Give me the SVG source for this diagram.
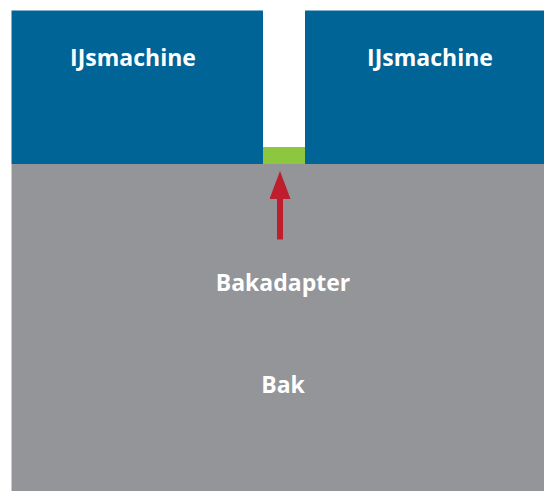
<svg xmlns="http://www.w3.org/2000/svg" width="544" height="491" viewBox="0 0 544 491">
<style>
.blue{fill:#006496}
.lbl{font-family:"Open Sans","Liberation Sans",sans-serif;font-weight:700;font-size:23px;fill:#fff;text-anchor:middle}
</style>
<defs>
<marker id="ah" viewBox="0 0 28 21" refX="0" refY="10.5" markerWidth="28" markerHeight="21" markerUnits="userSpaceOnUse" orient="auto">
<path d="M0,0 L28,10.5 L0,21 Z" fill="#be1e2d"/>
</marker>
</defs>
<rect width="544" height="491" fill="#fff"/>
<g id="bak">
<rect x="11.5" y="164" width="532.5" height="327" fill="#939598"/>
<text class="lbl" x="283" y="393">Bak</text>
</g>
<g id="ijs1">
<rect class="blue" x="11.5" y="10.5" width="251.5" height="153.5"/>
<text class="lbl" x="133" y="66">IJsmachine</text>
</g>
<g id="ijs2">
<rect class="blue" x="305" y="10.5" width="239" height="153.5"/>
<text class="lbl" x="430" y="66">IJsmachine</text>
</g>
<g id="bakadapter">
<rect x="263" y="147" width="42" height="17" fill="#8dc63f"/>
<text class="lbl" x="283" y="290.5">Bakadapter</text>
</g>
<g id="connectors">
<line x1="280" y1="239.5" x2="280" y2="199" stroke="#be1e2d" stroke-width="6" marker-end="url(#ah)"/>
</g>
</svg>
